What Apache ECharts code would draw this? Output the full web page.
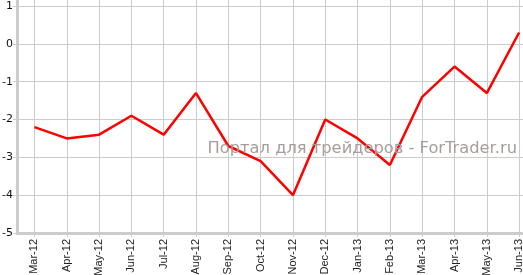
<!DOCTYPE html>
<html>
<head>
<meta charset="utf-8">
<script src="https://cdn.jsdelivr.net/npm/echarts@6/dist/echarts.min.js"></script>
<style>html,body{margin:0;padding:0;background:#fff}#c{width:523px;height:275px}</style>
</head>
<body>
<div id="c"></div>
<script>
var categories = ['Mar-12','Apr-12','May-12','Jun-12','Jul-12','Aug-12','Sep-12','Oct-12','Nov-12','Dec-12','Jan-13','Feb-13','Mar-13','Apr-13','May-13','Jun-13'];
var values = [-2.2,-2.5,-2.4,-1.9,-2.4,-1.3,-2.7,-3.1,-4.0,-2.0,-2.5,-3.2,-1.4,-0.6,-1.3,0.3];
var yTicks = [-5,-4,-3,-2,-1,0,1];
var watermark = 'Портал для трейдеров - ForTrader.ru';

var idx = categories.map(function(_, i){ return i; });
var chart = echarts.init(document.getElementById('c'), null, {renderer:'canvas'});
chart.setOption({
  animation: false,
  grid: {left: 17, right: 0, top: 0, bottom: 42, containLabel: false, outerBoundsMode: 'none'},
  xAxis: {
    type: 'value', min: -0.54, max: 15.12,
    axisLine: {show: true, onZero: false, lineStyle: {color: '#cccccc', width: 3}},
    axisTick: {show: true, length: 4, customValues: idx, lineStyle: {color: '#cccccc'}},
    axisLabel: {customValues: idx, rotate: 90, fontSize: 11, color: '#222', fontFamily: 'Liberation Sans', margin: 6,
      formatter: function(v){ return categories[Math.round(v)] || ''; }},
    splitLine: {show: true, lineStyle: {color: '#cccccc', width: 1}}
  },
  yAxis: {
    type: 'value', min: -5, max: 1.16,
    axisLine: {show: true, onZero: false, lineStyle: {color: '#cccccc', width: 3}},
    axisTick: {show: true, length: 4, customValues: yTicks, lineStyle: {color: '#cccccc'}},
    axisLabel: {customValues: yTicks, fontSize: 11, color: '#111', fontFamily: 'DejaVu Sans', margin: 4},
    splitLine: {show: true, lineStyle: {color: '#cccccc', width: 1}}
  },
  graphic: [{
    type: 'text', right: 6, top: 141, z: 100,
    style: {text: watermark, fill: '#a89c9c', font: '16.3px "DejaVu Sans"'}
  }],
  series: [{
    type: 'line',
    data: idx.map(function(i){ return [i, values[i]]; }),
    showSymbol: false,
    lineStyle: {color: '#ff0000', width: 2.5},
    z: 5
  }]
});
</script>
</body>
</html>
